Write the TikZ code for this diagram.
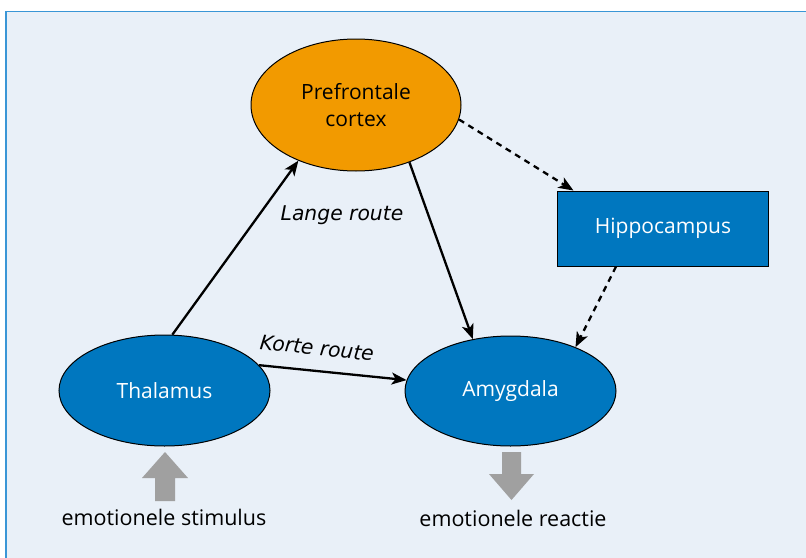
\documentclass[tikz,border=0pt]{standalone}
\usepackage{fontspec}
\setmainfont{Open Sans}
\newfontfamily\labelfont{DejaVu Sans}
\usetikzlibrary{shapes.geometric,arrows.meta,calc}
\definecolor{bg}{HTML}{E9F0F8}
\definecolor{frame}{HTML}{3A96D6}
\definecolor{pfcorange}{HTML}{F29A00}
\definecolor{nodeblue}{HTML}{0077BF}
\definecolor{arrowgray}{HTML}{A0A0A0}
\tikzset{
  ell/.style={ellipse, draw=black, line width=1pt, inner sep=0pt, font=\fontsize{21}{27}\selectfont, align=center},
  boxnode/.style={rectangle, draw=black, line width=1pt, inner sep=0pt, fill=nodeblue, text=white, font=\fontsize{21}{25}\selectfont},
  conn/.style={line width=2.3pt, -{Stealth[length=15pt,width=12pt,inset=4pt]}},
  dconn/.style={conn, dash pattern=on 6pt off 5pt},
  routelabel/.style={font=\labelfont\fontsize{20.3}{24}\selectfont\itshape},
  caption/.style={font=\fontsize{21.5}{25}\selectfont},
  grayarrow/.style={fill=arrowgray, draw=none}
}
\begin{document}
\begin{tikzpicture}[x=1pt,y=-1pt]
\useasboundingbox (0,0) rectangle (806,557);
\clip (0,0) rectangle (806,557);
\fill[bg] (6,11.5) rectangle (812,563);
\draw[frame, line width=1.6pt] (6,565) -- (6,11.5) -- (812,11.5);

\node[ell, fill=pfcorange, minimum width=210pt, minimum height=132pt] (pfc) at (356,105) {Prefrontale\\cortex};
\node[boxnode, minimum width=211pt, minimum height=75pt] (hip) at (663,228.5) {Hippocampus};
\node[ell, fill=nodeblue, text=white, minimum width=211pt, minimum height=111pt] (thal) at (164.5,390.5) {Thalamus};
\node[ell, fill=nodeblue, text=white, minimum width=211pt, minimum height=110pt] (amy) at (510.5,391) {Amygdala};

\draw[conn] (thal.82) -- (pfc.224);
\draw[conn] (pfc.313) -- (amy.126);
\draw[conn] (thal.15.7) -- (amy.174);
\draw[dconn] (pfc.352) -- (hip.157);
\draw[dconn] (hip.219.8) -- (amy.34.3);

\node[routelabel] (lange) at (342,215) {Lange route};
\node[routelabel, rotate=-6] (korte) at (317,348) {Korte route};

\fill[grayarrow] (155,501) -- (175,501) -- (175,478) -- (188,478) -- (165,452) -- (142,478) -- (155,478) -- cycle;
\fill[grayarrow] (502,452) -- (521,452) -- (521,474) -- (534,474) -- (511.5,500) -- (489,474) -- (502,474) -- cycle;

\node[caption] (stim) at (164,517) {emotionele stimulus};
\node[caption] (reac) at (513,518) {emotionele reactie};
\end{tikzpicture}
\end{document}
